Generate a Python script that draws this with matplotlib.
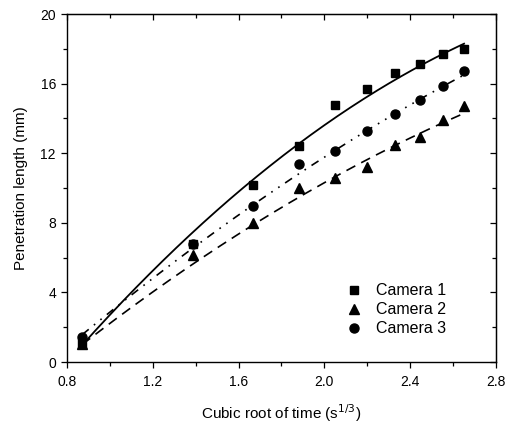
import numpy as np
import matplotlib
matplotlib.use("Agg")
import matplotlib.pyplot as plt
from matplotlib.ticker import MultipleLocator, FormatStrFormatter

plt.rcParams['font.family'] = ['Liberation Sans', 'DejaVu Sans']

# cubic root of time (s^1/3)
x = [0.871, 1.386, 1.669, 1.880, 2.051, 2.200, 2.330, 2.446, 2.554, 2.652]

cam1 = [1.1, 6.8, 10.2, 12.4, 14.8, 15.7, 16.6, 17.1, 17.7, 18.0]
cam2 = [1.05, 6.15, 7.97, 10.0, 10.6, 11.2, 12.45, 12.95, 13.9, 14.7]
cam3 = [1.45, 6.76, 8.97, 11.4, 12.15, 13.28, 14.23, 15.05, 15.85, 16.7]

# fitted curves at the same x positions
fit1 = [0.98, 7.4, 10.65, 12.43, 14.1, 15.25, 16.2, 16.97, 17.64, 18.4]
fit2 = [0.98, 5.8, 7.68, 9.5, 10.65, 11.6, 12.57, 13.14, 13.72, 14.29]
fit3 = [1.55, 6.72, 8.83, 10.84, 12.18, 13.33, 14.29, 15.15, 15.82, 16.49]

labels = ["Camera 1", "Camera 2", "Camera 3"]

fig = plt.figure(figsize=(5.08, 4.25), dpi=100)
ax = fig.add_axes([0.132, 0.148, 0.844, 0.819])

xs = np.linspace(x[0], x[-1], 200)
def smooth(vals):
    c = np.polyfit(x, vals, 2)
    return np.polyval(c, xs)

ax.plot(xs, smooth(fit1), color='black', lw=1.3, ls='-')
ax.plot(xs, smooth(fit2), color='black', lw=1.2, ls=(0, (6, 4)))
ax.plot(xs, smooth(fit3), color='black', lw=1.2, ls=(0, (5, 4, 1, 4, 1, 4)))

ax.plot(x, cam1, 's', color='black', ms=6, label=labels[0], ls='none')
ax.plot(x, cam2, '^', color='black', ms=7, label=labels[1], ls='none')
ax.plot(x, cam3, 'o', color='black', ms=6.5, label=labels[2], ls='none')

ax.set_xlim(0.8, 2.8)
ax.set_ylim(0, 20)
ax.xaxis.set_major_locator(MultipleLocator(0.4))
ax.xaxis.set_minor_locator(MultipleLocator(0.2))
ax.yaxis.set_major_locator(MultipleLocator(4))
ax.yaxis.set_minor_locator(MultipleLocator(2))
ax.tick_params(which='both', direction='out', labelsize=10, width=0.9)
ax.tick_params(which='major', length=4)
ax.tick_params(which='minor', length=3)
ax.tick_params(axis='x', pad=5)
ax.tick_params(axis='y', pad=4)
ax.xaxis.set_major_formatter(FormatStrFormatter('%.1f'))

# inward ticks on the top and right
axt = ax.secondary_xaxis('top')
axt.xaxis.set_major_locator(MultipleLocator(0.4))
axt.xaxis.set_minor_locator(MultipleLocator(0.2))
axt.tick_params(which='both', direction='in', labeltop=False, width=0.9)
axt.tick_params(which='major', length=4)
axt.tick_params(which='minor', length=3)
axr = ax.secondary_yaxis('right')
axr.yaxis.set_major_locator(MultipleLocator(4))
axr.yaxis.set_minor_locator(MultipleLocator(2))
axr.tick_params(which='both', direction='in', labelright=False, width=0.9)
axr.tick_params(which='major', length=4)
axr.tick_params(which='minor', length=3)

for s in ax.spines.values():
    s.set_linewidth(1.0)

ax.set_xlabel("Cubic root of time (s$^{1/3}$)", fontsize=11, labelpad=10)
ax.set_ylabel("Penetration length (mm)", fontsize=11, labelpad=9)

ax.legend(loc='lower right', bbox_to_anchor=(0.918, 0.033), frameon=False,
          fontsize=11.5, handletextpad=0.8, labelspacing=0.25, handlelength=1.2)

fig.savefig("out.png", dpi=100)
